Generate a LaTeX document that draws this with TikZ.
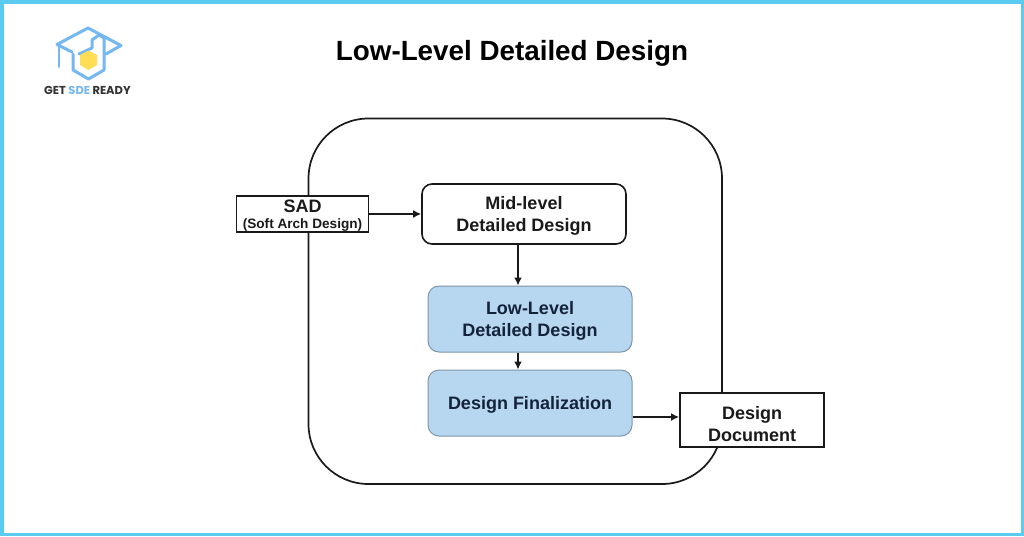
\documentclass[tikz,border=0pt]{standalone}
\usepackage{fontspec}
\setmainfont{Liberation Sans}
\newfontfamily\logofont{Poppins}
\usetikzlibrary{arrows.meta}
\definecolor{frameblue}{HTML}{5CCBF0}
\definecolor{fillblue}{HTML}{B7D6F0}
\definecolor{edgeblue}{HTML}{7F95A8}
\definecolor{logoblue}{HTML}{74B8F2}
\definecolor{logoyellow}{HTML}{FFDD55}
\definecolor{inkc}{HTML}{1A1A1A}
\definecolor{inkb}{HTML}{14233A}
\tikzset{
 x=1pt,y=-1pt,
 sq/.style={draw=inkc,line width=1.8pt,fill=white,minimum width=#1,align=center,inner sep=0pt,text=inkc},
 rnd/.style={draw=inkc,line width=1.6pt,fill=white,rounded corners=10pt,minimum width=204pt,minimum height=60pt,align=center,inner sep=0pt,text=inkc},
 blu/.style={draw=edgeblue,line width=1pt,fill=fillblue,rounded corners=11pt,minimum width=204pt,minimum height=66pt,align=center,inner sep=0pt,text=inkb},
 conn/.style={line width=1.7pt,draw=inkc,-{Latex[length=8pt,width=8pt]}},
 lbl/.style={font=\fontsize{18}{22}\selectfont\bfseries},
 logoline/.style={draw=logoblue,line width=3pt,line join=round,line cap=round}
}
\begin{document}
\begin{tikzpicture}
\useasboundingbox (0,0) rectangle (1024,536);
\fill[white] (0,0) rectangle (1024,536);
\draw[frameblue,line width=3.5pt] (1.75,1.75) rectangle (1022.25,534.25);
% outer rounded boundary
\draw[inkc,line width=1.7pt,rounded corners=60pt] (308.5,118.5) rectangle (722,484);
% title
\node[font=\fontsize{27.8}{32}\selectfont\bfseries,text=black] (title) at (512,53) {Low-Level Detailed Design};
% nodes
\node[sq=132pt,minimum height=36pt] (sad) at (302.5,214) {};
\node[font=\fontsize{18}{20}\selectfont\bfseries,text=inkc] (sadt) at (302.5,206) {SAD};
\node[text=inkc,font=\fontsize{13.6}{14}\selectfont\bfseries] (sads) at (302.5,225) {(Soft Arch Design)};
\node[rnd] (mid) at (524,214) {};
\node[lbl,text=inkc,align=center,inner sep=0pt] (midt) at (524,215.5) {Mid-level\\Detailed Design};
\node[blu] (low) at (530,319) {};
\node[lbl,text=inkb,align=center,inner sep=0pt] (lowt) at (530,321) {Low-Level\\Detailed Design};
\node[blu] (fin) at (530,403) {};
\node[lbl,text=inkb] (fint) at (530,404.5) {Design Finalization};
\node[sq=144pt,minimum height=54pt] (doc) at (752,420) {};
\node[lbl,text=inkc,align=center,inner sep=0pt] (doct) at (752,424) {Design\\Document};
% connectors
\coordinate (vx) at (518,0);
\coordinate (hy) at (0,417);
\draw[conn] (sad.east) -- (mid.west);
\draw[conn] (mid.south -| vx) -- (low.north -| vx);
\draw[conn] (low.south -| vx) -- (fin.north -| vx);
\draw[conn] (fin.east |- hy) -- (doc.west |- hy);
% logo
\draw[logoline] (72,52) -- (57,44.5) -- (88,28) -- (121,45.5) -- (106,54);
\draw[logoline] (73,54) -- (73,70) -- (88.5,79) -- (104,70) -- (104,38) -- (99,35) -- (92,40) -- (92,48) -- (79,54);
\draw[logoline,line width=2pt] (58.5,47) -- (58.5,67);
\fill[logoyellow] (80,55) -- (88.5,50.5) -- (97,55) -- (97,65) -- (88.5,70) -- (80,65) -- cycle;
\node[anchor=base,font=\fontsize{11.5}{14}\selectfont\bfseries\logofont,text=black!80] (logo) at (87.5,94) {GET \textcolor{logoblue}{SDE} READY};
\end{tikzpicture}
\end{document}
